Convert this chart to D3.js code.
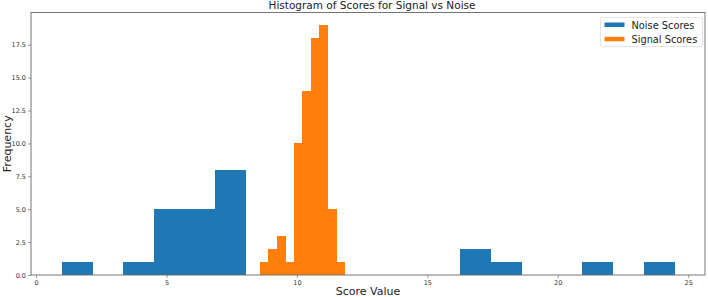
<!DOCTYPE html>
<html><head><meta charset="utf-8">
<script src="https://cdn.jsdelivr.net/npm/d3@7"></script>
<style>body{margin:0;background:#fff}svg{display:block;font-family:"DejaVu Sans",sans-serif}</style>
</head><body>
<script>
// Data
const seriesNames = ["Noise Scores", "Signal Scores"];
const noiseBinStart = 0.98, noiseBinWidth = 1.1745;
const noiseCounts = [1,0,1,5,5,8,0,0,0,0,0,0,0,2,1,0,0,1,0,1];
const signalBinStart = 8.57, signalBinWidth = 0.326;
const signalCounts = [1,2,3,1,10,14,18,19,5,1];
const xTicks = [0,5,10,15,20,25];
const yTicks = [0,2.5,5,7.5,10,12.5,15,17.5];
const colors = ["#1f77b4", "#ff7f0e"];

const W = 708, H = 297;
const m = {left:31, right:3, top:12.5, bottom:22};
const svg = d3.select("body").append("svg").attr("width",W).attr("height",H);

function bins(start, width, counts){
  return counts.map((c,i)=>({x0:start+i*width, x1:start+(i+1)*width, c}));
}
const nb = bins(noiseBinStart, noiseBinWidth, noiseCounts);
const sb = bins(signalBinStart, signalBinWidth, signalCounts);
const xmin = d3.min([...nb,...sb], d=>d.x0), xmax = d3.max([...nb,...sb], d=>d.x1);
const pad = (xmax-xmin)*0.05;
const ymax = d3.max([...noiseCounts,...signalCounts])*1.05;

const x = d3.scaleLinear().domain([xmin-pad, xmax+pad]).range([m.left, W-m.right]);
const y = d3.scaleLinear().domain([0, ymax]).range([H-m.bottom, m.top]);

[nb, sb].forEach((b,k)=>{
  svg.append("g").attr("shape-rendering","crispEdges")
    .selectAll("rect").data(b.filter(d=>d.c>0)).join("rect")
    .attr("x", d=>x(d.x0)).attr("width", d=>x(d.x1)-x(d.x0)+0.4)
    .attr("y", d=>y(d.c)).attr("height", d=>y(0)-y(d.c))
    .attr("fill", colors[k]);
});

const xa = svg.append("g").attr("transform",`translate(0,${H-m.bottom})`)
  .call(d3.axisBottom(x).tickValues(xTicks).tickFormat(d3.format("d")).tickSize(3).tickPadding(2));
const ya = svg.append("g").attr("transform",`translate(${m.left},0)`)
  .call(d3.axisLeft(y).tickValues(yTicks).tickFormat(d3.format(".1f")).tickSize(3).tickPadding(2));
[xa,ya].forEach(a=>{
  a.select(".domain").remove();
  a.selectAll("line").attr("stroke","#555").attr("stroke-width",0.6);
  a.selectAll("text").attr("font-size","6.5px").attr("fill","#333").attr("font-family","DejaVu Sans");
});
// frame
svg.append("rect").attr("x",m.left).attr("y",m.top).attr("width",W-m.right-m.left).attr("height",H-m.bottom-m.top)
  .attr("fill","none").attr("stroke","#666").attr("stroke-width",0.9);

svg.append("text").attr("x",(m.left+W-m.right)/2+4).attr("y",9).attr("text-anchor","middle")
  .attr("font-size","10.5px").attr("fill","#222").text("Histogram of Scores for Signal vs Noise");
svg.append("text").attr("x",(m.left+W-m.right)/2).attr("y",295).attr("text-anchor","middle")
  .attr("font-size","11px").attr("fill","#222").text("Score Value");
svg.append("text").attr("transform",`translate(11,${(m.top+H-m.bottom)/2}) rotate(-90)`).attr("text-anchor","middle")
  .attr("font-size","11px").attr("fill","#222").text("Frequency");

// legend
const lg = svg.append("g");
lg.append("rect").attr("x",600.5).attr("y",17.5).attr("width",102).attr("height",29).attr("rx",2)
  .attr("fill","#fff").attr("fill-opacity",0.8).attr("stroke","#ddd").attr("stroke-width",0.8);
seriesNames.forEach((n,i)=>{
  lg.append("rect").attr("x",604.5).attr("y",22.5+i*14.3).attr("width",20).attr("height",4.5).attr("fill",colors[i]);
  lg.append("text").attr("x",631.5).attr("y",28.5+i*14.3).attr("font-size","9.8px").attr("fill","#222").text(n);
});
</script>
</body></html>
